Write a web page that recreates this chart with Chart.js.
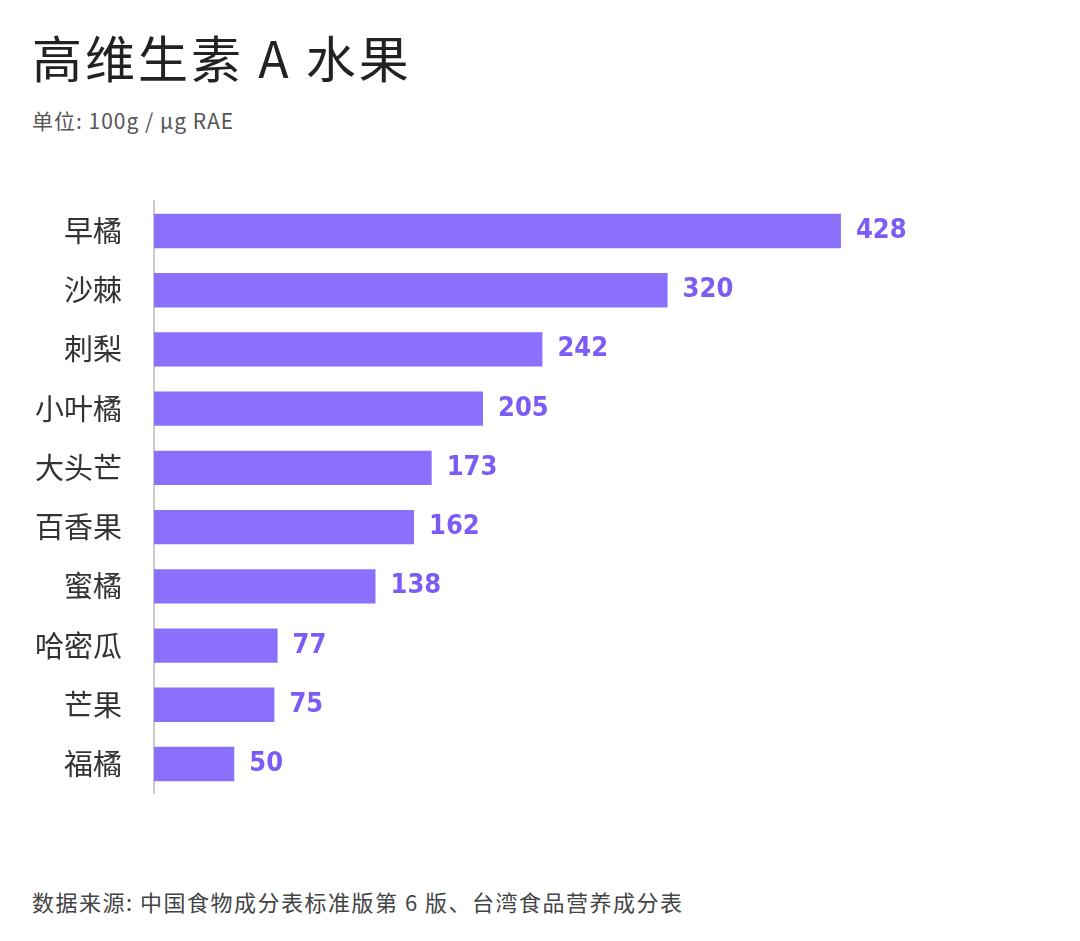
<!DOCTYPE html>
<html>
<head>
<meta charset="utf-8">
<script src="https://cdn.jsdelivr.net/npm/chart.js@4/dist/chart.umd.min.js"></script>
<style>
  body { margin: 0; width: 1080px; height: 941px; background: #fff; position: relative; font-family: "Noto Sans CJK SC", "Noto Sans", sans-serif; overflow: hidden; }
  h1 { position: absolute; left: 32px; top: 20px; margin: 0; font-size: 50px; font-weight: 400; color: #222; letter-spacing: 3px; }
  .sub { position: absolute; left: 32px; top: 105px; font-size: 21px; color: #555; letter-spacing: 1px; }
  .foot { position: absolute; left: 32px; top: 885px; font-size: 22px; color: #444; letter-spacing: 1.5px; }
  #c { position: absolute; left: 0; top: 160px; }
</style>
</head>
<body>
<h1>高维生素 A 水果</h1>
<div class="sub">单位: 100g / µg RAE</div>
<canvas id="c" width="1080" height="675"></canvas>
<div class="foot">数据来源: 中国食物成分表标准版第 6 版、台湾食品营养成分表</div>
<script>
const fruits = ['早橘', '沙棘', '刺梨', '小叶橘', '大头芒', '百香果', '蜜橘', '哈密瓜', '芒果', '福橘'];
const vitaminA = [428, 320, 242, 205, 173, 162, 138, 77, 75, 50];

// value labels at the end of each bar
const valueLabels = {
  id: 'valueLabels',
  afterDatasetsDraw(chart) {
    const ctx = chart.ctx;
    ctx.save();
    ctx.font = 'bold 27px "DejaVu Sans Condensed", "Noto Sans", sans-serif';
    ctx.fillStyle = '#7b5cf5';
    ctx.textBaseline = 'middle';
    chart.getDatasetMeta(0).data.forEach((bar, i) => {
      ctx.fillText(vitaminA[i], bar.x + 15, bar.y);
    });
    ctx.restore();
  }
};

new Chart(document.getElementById('c'), {
  type: 'bar',
  data: {
    labels: fruits,
    datasets: [{
      data: vitaminA,
      backgroundColor: '#8b70fb',
      barPercentage: 0.58,
      categoryPercentage: 1
    }]
  },
  options: {
    indexAxis: 'y',
    responsive: false,
    animation: false,
    layout: { padding: { top: 3, bottom: 3, right: 1080 - 154 - 500 * 1.605 } },
    plugins: { legend: { display: false }, tooltip: { enabled: false } },
    scales: {
      x: { display: false, min: 0, max: 500 },
      y: {
        afterFit: s => { s.width = 154; },
        grid: { display: false },
        border: { color: '#ccc', width: 2 },
        ticks: { color: '#333', padding: 24, font: { size: 29, family: '"Noto Sans CJK SC"' } }
      }
    }
  },
  plugins: [valueLabels]
});
</script>
</body>
</html>
